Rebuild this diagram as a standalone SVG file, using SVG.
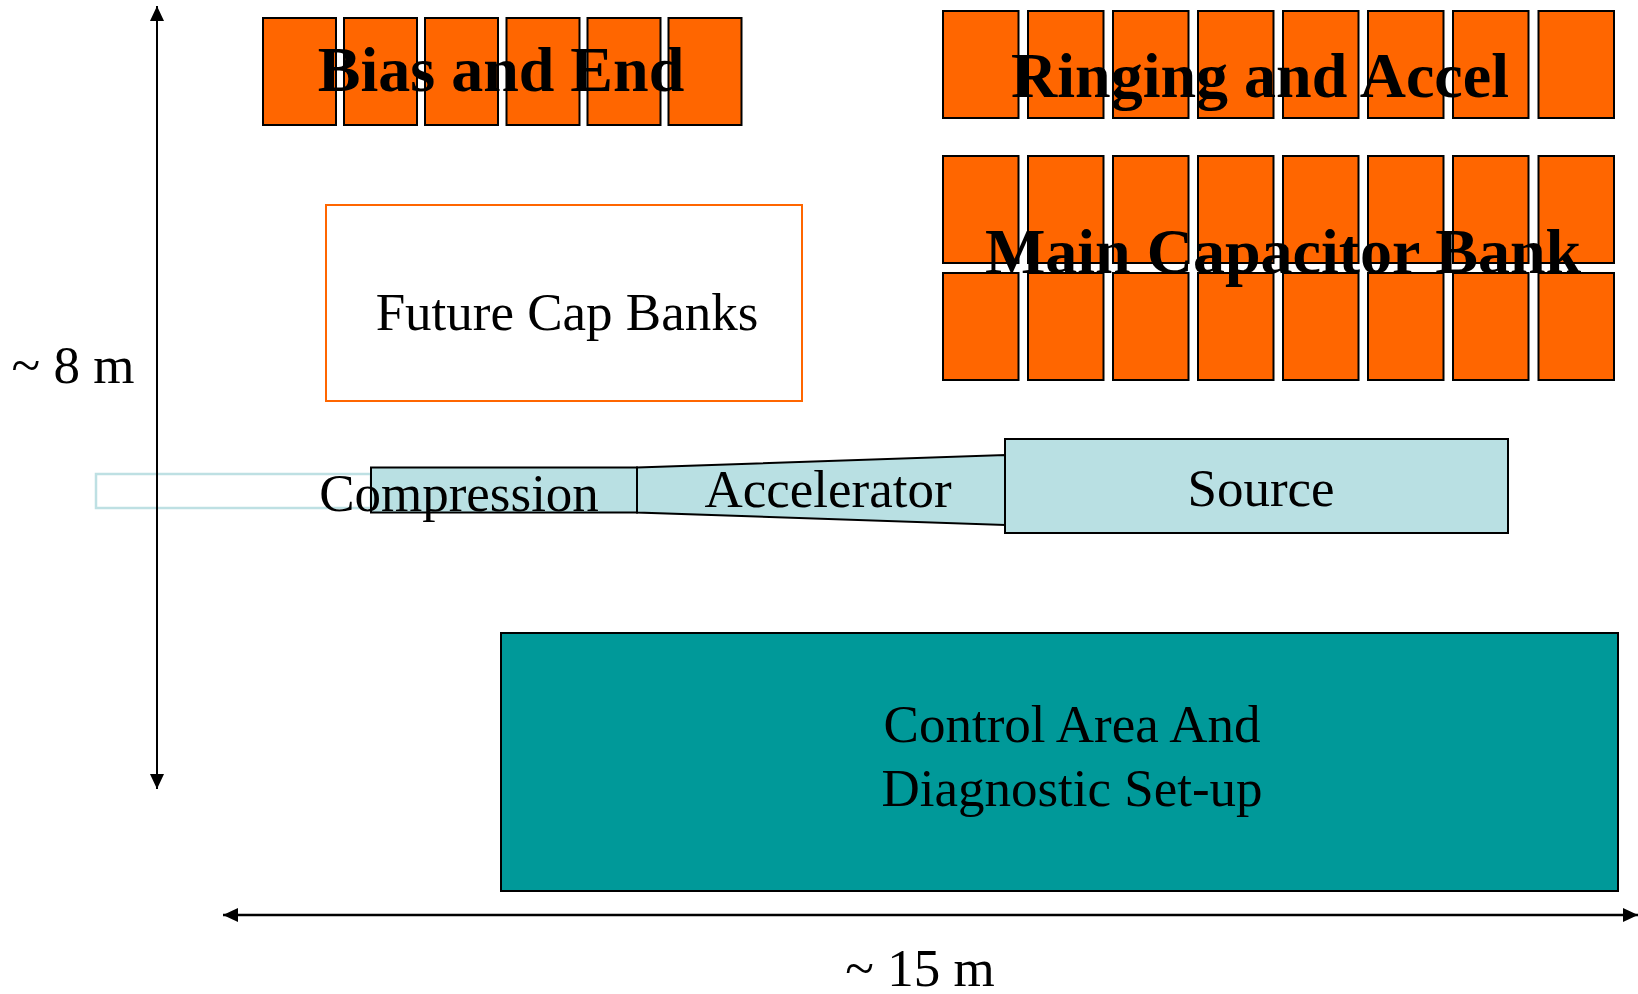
<svg xmlns="http://www.w3.org/2000/svg" width="1638" height="994" viewBox="0 0 1638 994">
<defs>
<marker id="ah" viewBox="0 0 15 14" refX="15" refY="7" markerWidth="15" markerHeight="14" orient="auto-start-reverse" markerUnits="userSpaceOnUse">
<path d="M0,0 L15,7 L0,14 z" fill="#000"/>
</marker>
</defs>
<style>
.cap{fill:#FF6600;stroke:#000;stroke-width:2}
.beam{fill:#B9E0E3;stroke:#000;stroke-width:2}
.bold{font-family:"Liberation Serif","Times New Roman",serif;font-weight:bold;font-size:64px;fill:#000;text-anchor:middle}
.reg{font-family:"Liberation Serif","Times New Roman",serif;font-size:53px;fill:#000;text-anchor:middle}
</style>
<rect width="1638" height="994" fill="#fff"/>

<g id="bias-and-end">
<rect class="cap" x="263" y="18" width="73" height="107"/>
<rect class="cap" x="344" y="18" width="73" height="107"/>
<rect class="cap" x="425" y="18" width="73" height="107"/>
<rect class="cap" x="506.5" y="18" width="73" height="107"/>
<rect class="cap" x="587.5" y="18" width="73" height="107"/>
<rect class="cap" x="668.5" y="18" width="73" height="107"/>
<text class="bold" x="501" y="91">Bias and End</text>
</g>

<g id="ringing-and-accel">
<rect class="cap" x="943" y="11" width="75.5" height="107"/>
<rect class="cap" x="1028" y="11" width="75.5" height="107"/>
<rect class="cap" x="1113" y="11" width="75.5" height="107"/>
<rect class="cap" x="1198" y="11" width="75.5" height="107"/>
<rect class="cap" x="1283" y="11" width="75.5" height="107"/>
<rect class="cap" x="1368" y="11" width="75.5" height="107"/>
<rect class="cap" x="1453" y="11" width="75.5" height="107"/>
<rect class="cap" x="1538.5" y="11" width="75.5" height="107"/>
<text class="bold" x="1260" y="97">Ringing and Accel</text>
</g>

<g id="main-capacitor-bank">
<rect class="cap" x="943" y="156" width="75.5" height="107"/>
<rect class="cap" x="1028" y="156" width="75.5" height="107"/>
<rect class="cap" x="1113" y="156" width="75.5" height="107"/>
<rect class="cap" x="1198" y="156" width="75.5" height="107"/>
<rect class="cap" x="1283" y="156" width="75.5" height="107"/>
<rect class="cap" x="1368" y="156" width="75.5" height="107"/>
<rect class="cap" x="1453" y="156" width="75.5" height="107"/>
<rect class="cap" x="1538.5" y="156" width="75.5" height="107"/>
<rect class="cap" x="943" y="273" width="75.5" height="107"/>
<rect class="cap" x="1028" y="273" width="75.5" height="107"/>
<rect class="cap" x="1113" y="273" width="75.5" height="107"/>
<rect class="cap" x="1198" y="273" width="75.5" height="107"/>
<rect class="cap" x="1283" y="273" width="75.5" height="107"/>
<rect class="cap" x="1368" y="273" width="75.5" height="107"/>
<rect class="cap" x="1453" y="273" width="75.5" height="107"/>
<rect class="cap" x="1538.5" y="273" width="75.5" height="107"/>
<text class="bold" x="1283" y="273">Main Capacitor Bank</text>
</g>

<g id="future-cap-banks">
<rect x="326" y="205" width="476" height="196" fill="#fff" stroke="#FF6600" stroke-width="2"/>
<text class="reg" x="567" y="330">Future Cap Banks</text>
</g>

<g id="beamline-extension">
<rect x="96" y="474" width="275" height="34" fill="none" stroke="#BEE0E3" stroke-width="2.5"/>
</g>

<g id="compression">
<rect class="beam" x="371" y="467.5" width="266" height="45"/>
</g>

<g id="accelerator">
<polygon class="beam" points="637,467.5 1005,455 1005,525 637,512.5"/>
<text class="reg" x="828" y="507">Accelerator</text>
</g>

<g id="source">
<rect class="beam" x="1005" y="439" width="503" height="94"/>
<text class="reg" x="1261" y="506">Source</text>
</g>

<g id="compression-label">
<text class="reg" x="459" y="511">Compression</text>
</g>

<g id="control-area">
<rect x="501" y="633" width="1117" height="258" fill="#009999" stroke="#000" stroke-width="2"/>
<text class="reg" x="1072" y="742">Control Area And</text>
<text class="reg" x="1072" y="806">Diagnostic Set-up</text>
</g>

<g id="connectors">
<line x1="157" y1="789" x2="157" y2="6" stroke="#000" stroke-width="2" marker-start="url(#ah)" marker-end="url(#ah)"/>
<line x1="223" y1="915" x2="1638" y2="915" stroke="#000" stroke-width="2.5" marker-start="url(#ah)" marker-end="url(#ah)"/>
</g>

<g id="dimension-labels">
<text class="reg" x="73" y="383">~ 8 m</text>
<text class="reg" x="920" y="986">~ 15 m</text>
</g>
</svg>
